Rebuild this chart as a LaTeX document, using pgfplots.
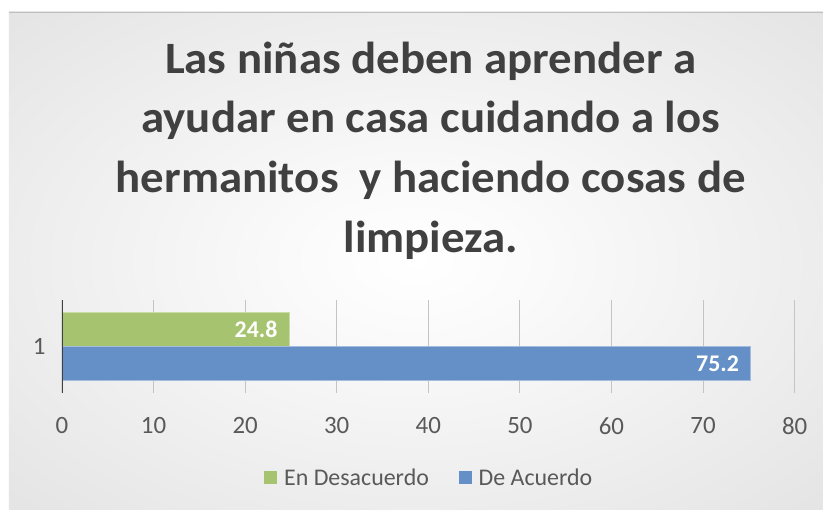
\documentclass[border=0pt]{standalone}
\usepackage{pgfplots}
\pgfplotsset{compat=1.18}
\usepackage{fontspec}
\setmainfont{Carlito}
\definecolor{titlec}{HTML}{404040}
\definecolor{tickc}{HTML}{595959}
\definecolor{greenbar}{HTML}{A6C46F}
\definecolor{bluebar}{HTML}{6590C7}
\definecolor{gridc}{HTML}{C4C4C4}
\pgfdeclareradialshading{bgshade}{\pgfpoint{0bp}{0bp}}{color(0bp)=(white); color(8bp)=(white!98!black); color(50bp)=(black!15); color(72bp)=(black!22)}
\begin{document}
\begin{tikzpicture}[x=1bp,y=1bp]
\fill[white] (0,0) rectangle (823,510);
\shade[shading=bgshade] (9,0) rectangle (823,498);
\draw[black!25, line width=0.8bp] (9,498) -- (823,498);
% title
\begin{scope}[every node/.style={anchor=base, text=titlec, font=\fontsize{45}{54}\selectfont\bfseries, inner sep=0pt, xscale=1.045}]
\node at (431,436) {Las niñas deben aprender a};
\node at (431,377) {ayudar en casa cuidando a los};
\node at (431,317) {hermanitos\ \ y haciendo cosas de};
\node at (431,257) {limpieza.};
\end{scope}
\begin{axis}[
  at={(62bp,117bp)}, anchor=south west,
  scale only axis, width=733bp, height=93bp,
  xmin=0, xmax=80, ymin=0, ymax=2,
  xtick={0,10,...,80}, ytick={1},
  axis line style={draw=none},
  xmajorgrids, major grid style={gridc, line width=0.8bp},
  major tick length=0pt,
  tick label style={text=tickc, font=\fontsize{25}{30}\selectfont},
  xticklabel style={yshift=-21bp},
  yticklabel style={xshift=-13bp},
  /pgf/number format/assume math mode=true,
  legend style={at={(0.5,-0.914)}, anchor=center, draw=none, fill=none,
    legend columns=2, font=\fontsize{24}{29}\selectfont, text=tickc,
    nodes={inner sep=0pt},
    /tikz/every odd column/.append style={column sep=7bp},
    /tikz/every even column/.append style={column sep=30bp},
    inner sep=0pt},
  point meta=x,
  nodes near coords,
  every node near coord/.append style={anchor=east, xshift=-8bp, text=white, font=\fontsize{24}{29}\selectfont\bfseries},
  xbar, bar width=34bp,
]
\addplot[fill=greenbar, draw=greenbar!60!white, line width=0.8bp, bar shift=17bp,
  legend image code/.code={\fill[greenbar] (0bp,-6bp) rectangle (12bp,6bp);}] coordinates {(24.8,1)};
\addlegendentry{En Desacuerdo}
\addplot[fill=bluebar, draw=bluebar!60!white, line width=0.8bp, bar shift=-17bp,
  legend image code/.code={\fill[bluebar] (0bp,-6bp) rectangle (12bp,6bp);}] coordinates {(75.2,1)};
\addlegendentry{De Acuerdo}
\draw[titlec, line width=3bp] (axis cs:0,0) -- (axis cs:0,2);
\end{axis}
\end{tikzpicture}
\end{document}
